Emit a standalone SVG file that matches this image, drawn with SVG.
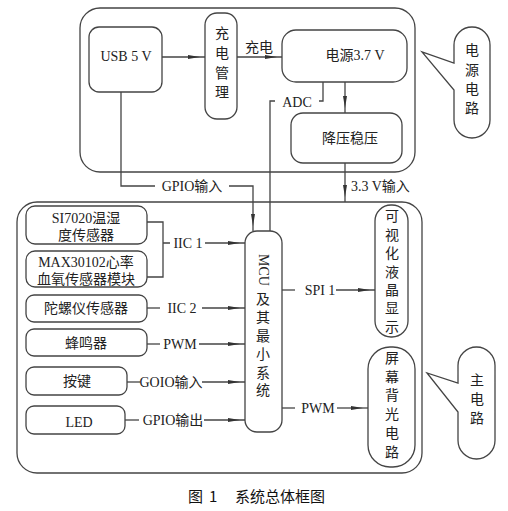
<svg xmlns="http://www.w3.org/2000/svg" width="508" height="511" viewBox="0 0 508 511">
<style>
.box{fill:#fff;stroke:#444;stroke-width:1.3}
.ln{fill:none;stroke:#444;stroke-width:1.3}
.ar{fill:none;stroke:#444;stroke-width:1.3;marker-end:url(#ah)}
text{font-family:"Liberation Serif","Noto Sans CJK SC",serif;font-size:14px;fill:#222}
.c{text-anchor:middle;dominant-baseline:central}
.l{dominant-baseline:central}
.cap{font-family:"Noto Sans CJK SC","Noto Sans",sans-serif;font-size:15px;fill:#111}
</style>
<defs>
<marker id="ah" markerUnits="userSpaceOnUse" viewBox="0 0 17 6" refX="17" refY="3" markerWidth="17" markerHeight="6" orient="auto">
<path d="M0,1 L12,3 L0,5 Z" fill="#333"/>
</marker>
</defs>
<g id="power-container"><rect class="box" x="80" y="8" width="335" height="164" rx="20"/></g>
<g id="main-container"><rect class="box" x="17" y="202" width="405" height="271" rx="20"/></g>
<g id="connectors">
<path class="ar" d="M162,57 H205"/>
<path class="ar" d="M237,57 H282"/>
<text class="c" x="259" y="47">充电</text>
<path class="ar" d="M345,82 V113"/>
<path class="ln" d="M323,82 V101 H319 M275,101 H270 V231"/>
<text class="c" x="297" y="102">ADC</text>
<path class="ar" d="M345,163 V202"/>
<text class="l" x="351" y="186">3.3 V输入</text>
<path class="ln" d="M121,92 V186 H155"/>
<text class="c" x="192" y="186">GPIO输入</text>
<path class="ar" d="M229,186 H253 V231"/>
<path class="ln" d="M147,222 H163 V277 H147 M163,243 H170"/>
<text class="c" x="188" y="243">IIC 1</text>
<path class="ar" d="M205,243 H245"/>
<path class="ln" d="M147,308 H160"/>
<text class="c" x="182" y="308">IIC 2</text>
<path class="ar" d="M202,308 H245"/>
<path class="ln" d="M147,344 H160"/>
<text class="c" x="180" y="344">PWM</text>
<path class="ar" d="M199,344 H245"/>
<path class="ln" d="M127,382 H140"/>
<text class="c" x="171" y="382">GOIO输入</text>
<path class="ar" d="M202,382 H245"/>
<path class="ln" d="M125,420 H139"/>
<text class="c" x="173" y="420">GPIO输出</text>
<path class="ar" d="M204,420 H245"/>
<path class="ln" d="M282,290 H295"/>
<text class="c" x="320" y="290">SPI 1</text>
<path class="ar" d="M336,290 H375"/>
<path class="ln" d="M282,408 H295"/>
<text class="c" x="318" y="408">PWM</text>
<path class="ar" d="M337,408 H368"/>
</g>
<g id="usb"><rect class="box" x="89" y="27" width="73" height="65" rx="10"/><text class="c" x="126" y="56">USB 5 V</text></g>
<g id="charge"><rect class="box" x="205" y="13" width="32" height="106" rx="12"/>
<text class="c" x="222" y="33">充</text><text class="c" x="222" y="53">电</text><text class="c" x="222" y="73">管</text><text class="c" x="222" y="92">理</text></g>
<g id="battery"><rect class="box" x="282" y="30" width="125" height="52" rx="14"/><text class="c" x="355" y="55">电源3.7  V</text></g>
<g id="regulator"><rect class="box" x="291" y="113" width="111" height="50" rx="12"/><text class="c" x="350" y="138">降压稳压</text></g>
<g id="si7020"><rect class="box" x="26" y="206" width="121" height="38" rx="9"/><text class="c" x="86" y="218">SI7020温湿</text><text class="c" x="86" y="235">度传感器</text></g>
<g id="max30102"><rect class="box" x="26" y="251" width="121" height="36" rx="9"/><text class="c" x="86" y="262">MAX30102心率</text><text class="c" x="86" y="279">血氧传感器模块</text></g>
<g id="gyro"><rect class="box" x="26" y="295" width="121" height="27" rx="8"/><text class="c" x="86" y="308">陀螺仪传感器</text></g>
<g id="buzzer"><rect class="box" x="26" y="329" width="121" height="27" rx="8"/><text class="c" x="86" y="343">蜂鸣器</text></g>
<g id="key"><rect class="box" x="26" y="367" width="101" height="28" rx="8"/><text class="c" x="77" y="381">按键</text></g>
<g id="led"><rect class="box" x="26" y="406" width="99" height="28" rx="8"/><text class="c" x="79" y="422">LED</text></g>
<g id="mcu"><rect class="box" x="245" y="231" width="37" height="201" rx="12"/>
<text class="c" transform="translate(263,270) rotate(90)">MCU</text>
<text class="c" x="263" y="299">及</text><text class="c" x="263" y="317">其</text><text class="c" x="263" y="336">最</text><text class="c" x="263" y="354">小</text><text class="c" x="263" y="373">系</text><text class="c" x="263" y="390">统</text></g>
<g id="lcd"><rect class="box" x="375" y="205" width="33" height="132" rx="16"/>
<text class="c" x="392" y="216">可</text><text class="c" x="392" y="235">视</text><text class="c" x="392" y="253">化</text><text class="c" x="392" y="272">液</text><text class="c" x="392" y="290">晶</text><text class="c" x="392" y="308">显</text><text class="c" x="392" y="327">示</text></g>
<g id="backlight"><rect class="box" x="368" y="347" width="47" height="120" rx="22"/>
<text class="c" x="392" y="358">屏</text><text class="c" x="392" y="377">幕</text><text class="c" x="392" y="395">背</text><text class="c" x="392" y="414">光</text><text class="c" x="392" y="433">电</text><text class="c" x="392" y="452">路</text></g>
<g id="callout-power"><path class="box" d="M454,63 V45 A18,18 0 0 1 490,45 V120 A18,18 0 0 1 454,120 V90 L422,52 Z"/>
<text class="c" x="472" y="50">电</text><text class="c" x="472" y="70">源</text><text class="c" x="472" y="89">电</text><text class="c" x="472" y="108">路</text></g>
<g id="callout-main"><path class="box" d="M458,383 V365.5 A18.5,18.5 0 0 1 495,365.5 V440.5 A18.5,18.5 0 0 1 458,440.5 V412 L427,373 Z"/>
<text class="c" x="477" y="380">主</text><text class="c" x="477" y="399">电</text><text class="c" x="477" y="418">路</text></g>
<g id="caption"><text class="cap" x="188" y="502">图</text><text class="cap" x="209" y="502">1</text><text class="cap" x="235" y="502">系统总体框图</text></g>
</svg>
